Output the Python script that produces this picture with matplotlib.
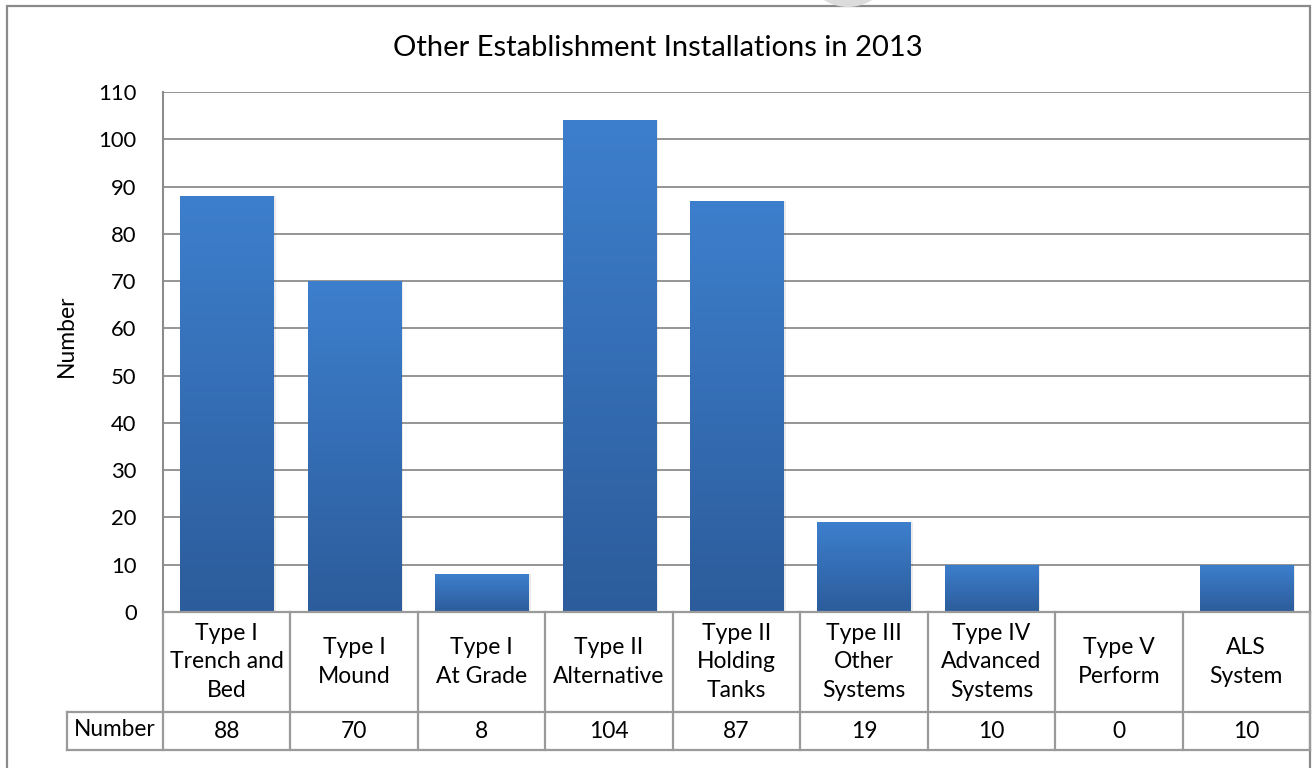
import matplotlib
matplotlib.use("Agg")
import matplotlib.pyplot as plt
import numpy as np
from matplotlib.patches import Rectangle, Ellipse
from matplotlib.lines import Line2D
from matplotlib.colors import LinearSegmentedColormap

categories = ["Type I\nTrench and\nBed", "Type I\nMound", "Type I\nAt Grade",
              "Type II\nAlternative", "Type II\nHolding\nTanks", "Type III\nOther\nSystems",
              "Type IV\nAdvanced\nSystems", "Type V\nPerform", "ALS\nSystem"]
values = [88, 70, 8, 104, 87, 19, 10, 0, 10]
yticks = list(range(0, 111, 10))
title = "Other Establishment Installations in 2013"
series_name = "Number"

plt.rcParams['font.family'] = ['Lato', 'DejaVu Sans']

W, H = 1313, 768
fig = plt.figure(figsize=(W / 100, H / 100), dpi=100)

def fx(px):
    return px / W

def fy(py):
    return 1 - py / H

L, R, T, B = 163, 1310, 92, 612
ax = fig.add_axes([fx(L), fy(B), fx(R) - fx(L), fy(T) - fy(B)])
n = len(categories)
x = np.arange(n)
ax.set_yticks(yticks)
ax.set_yticklabels([str(t) for t in yticks], fontsize=15.8)
ax.tick_params(axis='y', length=0, pad=19)
ax.set_xticks([])
for s in ['top', 'right', 'bottom']:
    ax.spines[s].set_visible(False)
ax.spines['left'].set_color('#8c8c8c')
ax.spines['left'].set_linewidth(1.5)
ax.yaxis.grid(True, color='#8c8c8c', linewidth=1.3)
ax.set_axisbelow(True)

cmap = LinearSegmentedColormap.from_list('g', ['#2c5c9b', '#3d7fcd'])
grad = np.linspace(0, 1, 256).reshape(-1, 1)
bars = ax.bar(x, values, width=0.73, color='#3570b8', zorder=3)
for b in bars:
    h = b.get_height()
    if h <= 0:
        continue
    x0 = b.get_x()
    wdt = b.get_width()
    sh = Rectangle((x0 + 0.02, 0), wdt, h, facecolor='#000000', alpha=0.08,
                   edgecolor='none', zorder=2)
    ax.add_patch(sh)
    im = ax.imshow(grad, extent=[x0, x0 + wdt, 0, h], origin='lower', cmap=cmap,
                   aspect='auto', zorder=4)
    im.set_clip_path(b)
ax.set_xlim(-0.5, n - 0.5)
ax.set_ylim(0, 110)

fig.text(fx(66), fy(336), "Number", rotation=90, ha='center', va='center', fontsize=16.5)
fig.text(fx(658), fy(48), title, ha='center', va='center', fontsize=21)

# data table
lc = '#9a9a9a'
lw = 1.6
cw = (R - L) / n
def hline(y, x0, x1):
    fig.add_artist(Line2D([fx(x0), fx(x1)], [fy(y), fy(y)], color=lc, linewidth=lw))
def vline(xp, y0, y1):
    fig.add_artist(Line2D([fx(xp), fx(xp)], [fy(y0), fy(y1)], color=lc, linewidth=lw))

hline(612, L, R)
hline(712, 67, R)
hline(750, 67, R)
vline(67, 712, 750)
for k in range(n + 1):
    vline(L + k * cw, 612, 750)

for i, (c, v) in enumerate(zip(categories, values)):
    cx = L + (i + 0.5) * cw
    fig.text(fx(cx), fy(662), c, ha='center', va='center', fontsize=16.5,
             linespacing=1.47)
    fig.text(fx(cx), fy(731), str(v), ha='center', va='center', fontsize=16.5)
fig.text(fx(115), fy(730), series_name, ha='center', va='center', fontsize=16.3)

# outer chart border
fig.add_artist(Rectangle((fx(7), fy(790)), fx(1310) - fx(7), fy(6) - fy(790),
                         fill=False, edgecolor='#8a8a8a', linewidth=1.6))
# faint gray artifact at top
fig.add_artist(Ellipse((fx(848), fy(-38)), fx(90), 90 / H,
                       facecolor='#dcdcdc', edgecolor='none'))

fig.savefig("out.png", dpi=100)
